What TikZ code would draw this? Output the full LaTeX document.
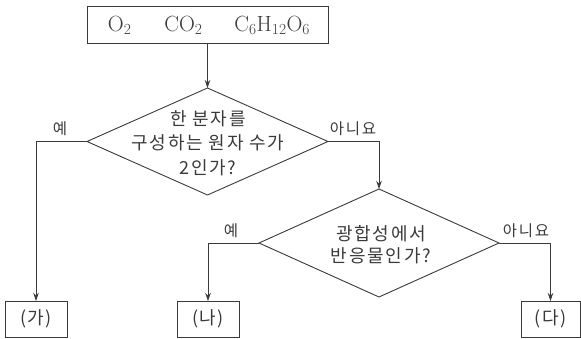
\documentclass[tikz,border=0pt]{standalone}
\usepackage{fontspec}
\newfontfamily\kr[LetterSpace=10]{Noto Sans CJK KR}
\newfontfamily\krl[LetterSpace=12]{Noto Sans CJK KR}
\newfontfamily\krr[LetterSpace=8]{Noto Sans CJK KR}
\usetikzlibrary{shapes.geometric,arrows.meta}
\definecolor{ink}{HTML}{3A3A3A}
\begin{document}
\begin{tikzpicture}[x=1pt,y=-1pt,
  line width=0.9pt,
  every node/.style={text=ink},
  boxnode/.style={draw=ink,rectangle,inner sep=0pt,outer sep=0pt},
  dianode/.style={draw=ink,diamond,inner sep=0pt,outer sep=0pt,minimum width=241pt,minimum height=107pt},
  qtext/.style={font=\kr\fontsize{18}{24.5}\selectfont,align=center},
  lbl/.style={font=\krl\fontsize{15.5}{17}\selectfont},
  res/.style={font=\krr\fontsize{18}{20}\selectfont},
  conn/.style={draw=ink,-{Stealth[length=8pt,width=5.5pt]}}]
\useasboundingbox (0,0) rectangle (581,339);
\node[boxnode,minimum width=241pt,minimum height=37pt] (top) at (207.5,24.5) {};
\node[font=\fontsize{22}{26}\selectfont] (topt) at (209,25.5) {$\mathrm{O_2}$\hspace{33pt}$\mathrm{CO_2}$\hspace{32pt}$\mathrm{C_6H_{12}O_6}$};
\node[dianode] (d1) at (207.5,141.5) {};
\node[qtext] (d1t) at (208,143) {한 분자를\\구성하는 원자 수가\\2인가?};
\node[dianode,minimum width=240pt,minimum height=108pt] (d2) at (379,243) {};
\node[qtext,font=\kr\fontsize{18}{22.5}\selectfont] (d2t) at (381,244.5) {광합성에서\\반응물인가?};
\node[boxnode,minimum width=62pt,minimum height=36pt] (ga) at (36,319) {};
\node[res] at (ga.center) {(가)};
\node[boxnode,minimum width=62pt,minimum height=36pt] (na) at (208,319) {};
\node[res] at (na.center) {(나)};
\node[boxnode,minimum width=59pt,minimum height=36pt] (da) at (550.5,319) {};
\node[res] at (da.center) {(다)};
\draw[conn] (top.south) -- (d1.north);
\draw[conn] (d1.west) -| (ga.north);
\draw[conn] (d1.east) -| (d2.north);
\draw[conn] (d2.west) -| (na.north);
\draw[conn] (d2.east) -| (da.north);
\node[lbl] (y1) at (60,129) {예};
\node[lbl] (n1) at (353,129) {아니요};
\node[lbl] (y2) at (231,231) {예};
\node[lbl] (n2) at (526,231) {아니요};
\end{tikzpicture}
\end{document}
